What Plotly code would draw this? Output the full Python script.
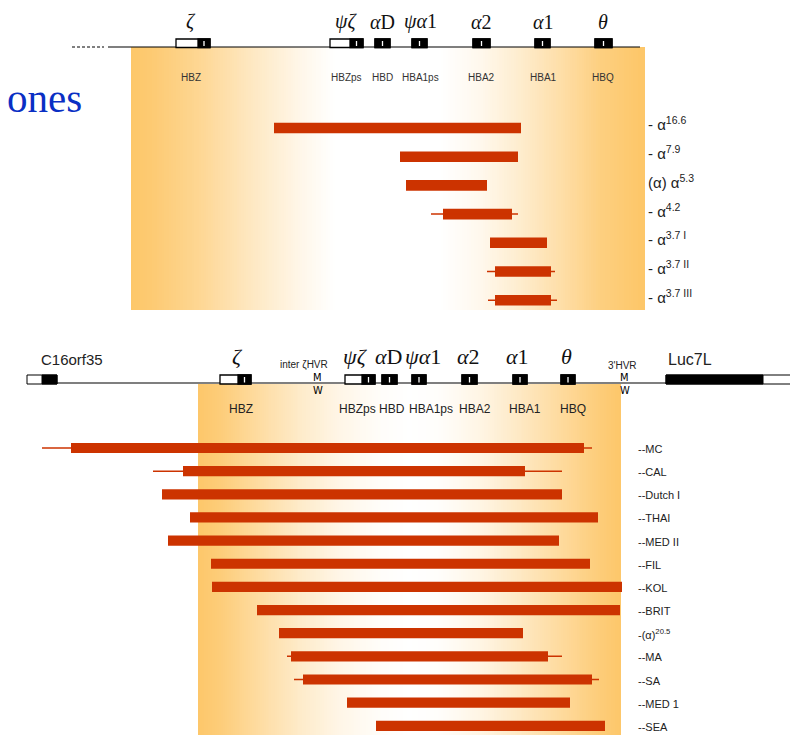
import numpy as np
import plotly.graph_objects as go

W, H = 798, 735
OFF = 8  # page body margin

# ---------------- data ----------------
# upper panel: deletions (map units)
top_labels = ["- α<sup>16.6</sup>", "- α<sup>7.9</sup>", "(α) α<sup>5.3</sup>", "- α<sup>4.2</sup>",
              "- α<sup>3.7 I</sup>", "- α<sup>3.7 II</sup>", "- α<sup>3.7 III</sup>"]
top_start = [274, 400, 406, 443, 490, 495, 495]
top_end = [521, 518, 487, 512, 547, 551, 551]
top_wstart = [None, None, None, 431, None, 487, 488]
top_wend = [None, None, None, 518, None, 555, 557]

# upper panel: genes
top_greek = ["<i>ζ</i>", "<i>ψζ</i>", "<i>α</i>D", "<i>ψα</i>1", "<i>α</i>2", "<i>α</i>1", "<i>θ</i>"]
top_names = ["HBZ", "HBZps", "HBD", "HBA1ps", "HBA2", "HBA1", "HBQ"]
top_gstart = [176, 330, 375, 412, 473, 535, 595]
top_gend = [210, 363, 390, 427, 490, 550, 612]
top_gblack = [198, 350, 375, 412, 473, 535, 595]
top_label_x = [191, 346, 382, 420, 481, 543, 603]

# lower panel: deletions
bot_labels = ["--MC", "--CAL", "--Dutch I", "--THAI", "--MED II", "--FIL", "--KOL", "--BRIT",
              "-(α)<sup>20.5</sup>", "--MA", "--SA", "--MED 1", "--SEA"]
bot_start = [71, 183, 162, 190, 168, 211, 212, 257, 279, 291, 303, 347, 376]
bot_end = [584, 525, 562, 598, 559, 590, 622, 620, 523, 548, 592, 570, 605]
bot_wstart = [42, 153, None, None, None, None, None, None, None, 287, 294, None, None]
bot_wend = [592, 562, None, None, None, None, None, None, None, 562, 599, None, None]

# lower panel: genes
bot_greek = ["<i>ζ</i>", "<i>ψζ</i>", "<i>α</i>D", "<i>ψα</i>1", "<i>α</i>2", "<i>α</i>1", "<i>θ</i>"]
bot_names = ["HBZ", "HBZps", "HBD", "HBA1ps", "HBA2", "HBA1", "HBQ"]
bot_gstart = [220, 345, 382, 412, 462, 513, 561]
bot_gend = [251, 375, 397, 426, 477, 527, 575]
bot_gblack = [238, 362, 382, 412, 462, 513, 561]
bot_greek_x = [237, 355, 388, 423, 468, 517, 566]
bot_name_x = [241, 357, 392, 431, 475, 525, 573]

# ---------------- layout helpers ----------------
RED = "#CC3300"
ORANGE = "#FDC76A"
SANS = "Liberation Sans, Arial, sans-serif"
SERIF = "Liberation Serif, DejaVu Serif, serif"

TOP_R0, TOP_STEP = 128.0, 28.7
BOT_R0, BOT_STEP = 448.0, 23.15


def top_y(p):
    return (p - TOP_R0) / TOP_STEP


def bot_y(p):
    return (p - BOT_R0) / BOT_STEP


def py(p):
    return 1 - (p - OFF) / (H - OFF)


fig = go.Figure()


def gradient(x0, x1, sx, sv, y0, y1, xa, ya, ytr):
    edges = np.linspace(x0, x1, 220)
    centers = (edges[:-1] + edges[1:]) / 2
    z = np.interp(centers, sx, sv)
    fig.add_trace(go.Heatmap(x=edges, y=[ytr(y0), ytr(y1)], z=[z], zmin=0, zmax=1,
                             colorscale=[[0, "#FFFFFF"], [1, ORANGE]], showscale=False,
                             hoverinfo="skip", xaxis=xa, yaxis=ya))


# backgrounds
gradient(131, 645,
         [131, 150, 200, 250, 300, 335, 440, 480, 520, 560, 600, 640],
         [1.0, 0.95, 0.72, 0.42, 0.15, 0.0, 0.0, 0.12, 0.33, 0.58, 0.85, 1.0],
         47, 310, "x", "y", top_y)
gradient(198, 621,
         [198, 220, 260, 300, 340, 380, 410, 440, 480, 520, 560, 600, 621],
         [1.0, 0.9, 0.62, 0.36, 0.16, 0.04, 0.0, 0.03, 0.18, 0.4, 0.65, 0.9, 1.0],
         384, 736, "x2", "y2", bot_y)


def whiskers(ws, we, xa, ya):
    xs, ys = [], []
    for i, (a, b) in enumerate(zip(ws, we)):
        if a is None:
            continue
        xs += [a, b, None]
        ys += [i, i, None]
    fig.add_trace(go.Scatter(x=xs, y=ys, mode="lines", line=dict(color=RED, width=1.5),
                             hoverinfo="skip", showlegend=False, xaxis=xa, yaxis=ya))


whiskers(top_wstart, top_wend, "x", "y")
whiskers(bot_wstart, bot_wend, "x2", "y2")

fig.add_trace(go.Bar(orientation="h", y=list(range(len(top_start))),
                     x=[e - s for s, e in zip(top_start, top_end)], base=top_start,
                     width=0.37, marker=dict(color=RED, line=dict(width=0)),
                     hoverinfo="skip", showlegend=False, xaxis="x", yaxis="y"))
fig.add_trace(go.Bar(orientation="h", y=list(range(len(bot_start))),
                     x=[e - s for s, e in zip(bot_start, bot_end)], base=bot_start,
                     width=0.44, marker=dict(color=RED, line=dict(width=0)),
                     hoverinfo="skip", showlegend=False, xaxis="x2", yaxis="y2"))

shapes = []
ann = []


def line(x0, x1, y0, y1, color="black", width=1.2, dash=None, xref="x"):
    shapes.append(dict(type="line", xref=xref, yref="paper", x0=x0, x1=x1, y0=py(y0), y1=py(y1),
                       line=dict(color=color, width=width, dash=dash)))


def rect(x0, x1, y0, y1, fill, lw=1.2, lc="black", xref="x"):
    shapes.append(dict(type="rect", xref=xref, yref="paper", x0=x0, x1=x1, y0=py(y1), y1=py(y0),
                       fillcolor=fill, line=dict(color=lc, width=lw)))


def text(x, y, s, size, family=SANS, color="#222222", xanchor="center", xref="x"):
    ann.append(dict(x=x, y=py(y), xref=xref, yref="paper", text=s, showarrow=False,
                    xanchor=xanchor, yanchor="middle",
                    font=dict(size=size, family=family, color=color)))


def gene(s, e, b, ytop, ybot, xref):
    rect(s, e, ytop, ybot, "white", 1.3, xref=xref)
    rect(b, e, ytop, ybot, "black", 1.3, xref=xref)
    mid = (b + e) / 2
    line(mid, mid, ytop + 2, ybot - 1.5, color="white", width=1.3, xref=xref)


# ---- upper gene map ----
line(72, 104, 47, 47, width=1, dash="3px,2px")
line(108, 640, 47, 47, width=1.2)
for s, e, b in zip(top_gstart, top_gend, top_gblack):
    gene(s, e, b, 39, 47.5, "x")
for x, g, n in zip(top_label_x, top_greek, top_names):
    text(x, 22, g, 20, family=SERIF, color="#111111")
    text(x, 77, n, 10, color="#333333")

for i, lab in enumerate(top_labels):
    text(646, TOP_R0 + i * TOP_STEP - 4, lab, 15, xanchor="left")

# ---- lower gene map ----
line(27, 787, 383, 383, width=1.2, xref="x2")
rect(27, 57, 375, 384, "white", 1.0, xref="x2")
rect(42, 57, 375, 384, "black", 1.0, xref="x2")
rect(666, 792, 375, 384, "white", 1.0, xref="x2")
rect(666, 763, 375, 384, "black", 1.0, xref="x2")
for s, e, b in zip(bot_gstart, bot_gend, bot_gblack):
    gene(s, e, b, 375, 384, "x2")
for x, g in zip(bot_greek_x, bot_greek):
    text(x, 357, g, 22, family=SERIF, color="#111111", xref="x2")
for x, n in zip(bot_name_x, bot_names):
    text(x, 409, n, 12, color="#222222", xref="x2")

text(72, 359, "C16orf35", 15, xref="x2")
text(690, 359, "Luc7L", 16, xref="x2")
text(304, 365, "inter ζHVR", 10, xref="x2")
text(622, 365, "3'HVR", 10, xref="x2")
for hx in [317, 624]:
    text(hx, 378, "M", 11, family="DejaVu Sans Condensed, DejaVu Sans", color="black", xref="x2")
    text(hx + 1, 390, "W", 11, family="DejaVu Sans Condensed, DejaVu Sans", color="black", xref="x2")

for i, lab in enumerate(bot_labels):
    text(636, BOT_R0 + i * BOT_STEP + 1, lab, 11, xanchor="left", xref="x2")

# slide title fragment
text(84, 98, "ones", 41, family=SERIF, color="#0A2FC4", xanchor="right")

fig.update_layout(
    width=W - OFF, height=H - OFF, margin=dict(l=0, r=0, t=0, b=0),
    paper_bgcolor="white", plot_bgcolor="white", showlegend=False, barmode="overlay",
    xaxis=dict(range=[OFF, W], domain=[0, 1], visible=False, fixedrange=True),
    yaxis=dict(range=[top_y(H), top_y(OFF)], domain=[0, 1], visible=False, fixedrange=True),
    xaxis2=dict(range=[OFF, W], overlaying="x", anchor="y2", visible=False, fixedrange=True),
    yaxis2=dict(range=[bot_y(H), bot_y(OFF)], overlaying="y", anchor="x2", visible=False,
                fixedrange=True),
    shapes=shapes, annotations=ann,
)

fig.write_html("out.html")
